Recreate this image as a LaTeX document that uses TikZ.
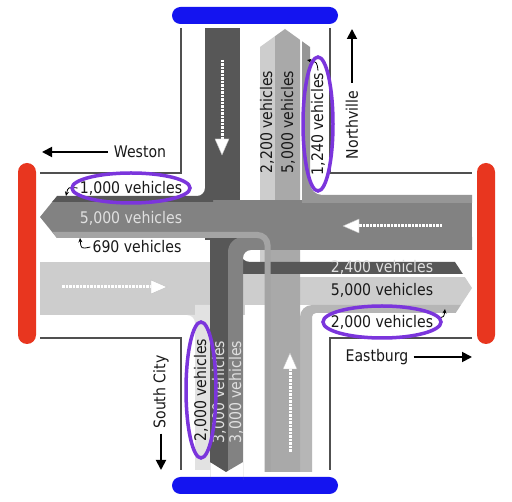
\documentclass[tikz,border=0pt]{standalone}
\usepackage{fontspec}
\setmainfont{DejaVu Sans}[FakeStretch=0.88]
\usetikzlibrary{arrows.meta}
\definecolor{dk}{HTML}{575757}
\definecolor{md}{HTML}{828282}
\definecolor{nr}{HTML}{969696}
\definecolor{lm}{HTML}{A9A9A9}
\definecolor{lt}{HTML}{CDCDCD}
\definecolor{ls}{HTML}{E2E2E2}
\definecolor{le}{HTML}{B6B6B6}
\definecolor{sixninety}{HTML}{A4A4A4}
\definecolor{pp}{HTML}{7B35DC}
\definecolor{rd}{HTML}{E8361F}
\definecolor{bl}{HTML}{1414F0}
\definecolor{edgec}{HTML}{505050}
\begin{document}
\begin{tikzpicture}[x=1pt,y=-1pt,
  font=\fontsize{16}{18}\selectfont,
  lbl/.style={inner sep=0pt, text=black!90},
  wlbl/.style={inner sep=0pt, text=white!88!black},
  oval/.style={draw=pp, line width=3.5pt},
  edgeline/.style={draw=edgec, line width=1.2pt},
  dirarrow/.style={draw=black, line width=1.8pt, -{Triangle[length=10pt,width=10pt]}},
  tinyarrow/.style={draw=black, line width=0.8pt, -{Stealth[length=4.5pt,width=4pt]}},
  flowdash/.style={draw=white, line width=3pt, dash pattern=on 2.5pt off 1pt},
  flowhead/.style={fill=white, draw=gray!50, line width=0.4pt},
  westclip/.style={insert path={(40,217) -- (57,196) -- (57,0) -- (512,0) -- (512,502) -- (57,502) -- (57,238) -- cycle}},
  eastclip/.style={insert path={(0,0) -- (455,0) -- (455,262) -- (472,288) -- (455,314) -- (455,502) -- (0,502) -- cycle}},
  northclip/.style={insert path={(0,502) -- (0,47) -- (260,47) -- (285,29) -- (310,47) -- (512,47) -- (512,502) -- cycle}},
  southclip/.style={insert path={(0,0) -- (512,0) -- (512,502) -- (243,502) -- (243,462) -- (226,472) -- (210,462) -- (210,502) -- (0,502) -- cycle}}
]
\useasboundingbox (0,0) rectangle (512,502);
\fill[white] (0,0) rectangle (512,502);

% end bars
\fill[rd, rounded corners=9pt] (18,163) rectangle (36,344);
\fill[rd, rounded corners=9pt] (477,163) rectangle (495,344);
\fill[bl, rounded corners=8.5pt] (172,7) rectangle (338,24);
\fill[bl, rounded corners=8.5pt] (172,477) rectangle (338,494);

% road edges
\draw[edgeline] (181,28) -- (181,173) -- (40,173);
\draw[edgeline] (330,28) -- (330,173) -- (472,173);
\draw[edgeline] (40,338) -- (181,338) -- (181,470);
\draw[edgeline] (472,338) -- (330,338) -- (330,470);

% eastbound (light)
\fill[lt] (40,262) rectangle (245,315);
\begin{scope}
  \clip[eastclip];
  \fill[lt] (240,277) rectangle (480,305);
\end{scope}
\begin{scope}
  \clip[northclip];
  \fill[lt] (240,262) rectangle (275,277);
  \fill[lt] (260,20) rectangle (275,277);
\end{scope}
% eastbound right turn (south)
\fill[ls] (195,305) -- (210,305) -- (210,470) -- (195,470) -- (195,323)
  .. controls (195,318.6) and (191.4,315) .. (187,315) -- (195,315) -- cycle;
% northbound right turn (east)
\begin{scope}
  \clip[eastclip];
  \fill[le] (300,472) -- (300,317) .. controls (300,310.4) and (305.4,305) .. (312,305)
    -- (480,305) -- (480,313) -- (316,313) .. controls (313.8,313) and (312,314.8) .. (312,317)
    -- (312,472) -- cycle;
\end{scope}
% northbound straight
\begin{scope}
  \clip[northclip];
  \fill[lm] (270,472) -- (270,245) -- (275,245) -- (275,20) -- (300,20) -- (300,472) -- cycle;
\end{scope}
% southbound (dark)
\fill[dk] (205,28) rectangle (240,240);
\begin{scope}
  \clip[southclip];
  \fill[dk] (210,236) rectangle (228,480);
\end{scope}
\begin{scope}
  \clip[eastclip];
  \fill[dk] (228,236) -- (240,236) -- (240,252) .. controls (240,257.5) and (244.5,262) .. (250,262)
    -- (480,262) -- (480,274) -- (228,274) -- cycle;
\end{scope}
% westbound (mid)
\begin{scope}
  \clip[westclip];
  \fill[md] (30,200) rectangle (472,238);
\end{scope}
\begin{scope}
  \clip[southclip];
  \fill[md] (472,237) -- (243,237) .. controls (234.7,237) and (228,243.7) .. (228,252)
    -- (228,480) -- (243,480) -- (243,258) .. controls (243,253.6) and (246.6,250) .. (251,250)
    -- (472,250) -- cycle;
\end{scope}
% westbound right turn (north)
\begin{scope}
  \clip[northclip];
  \fill[nr] (472,195) -- (322,195) .. controls (315.4,195) and (310,189.6) .. (310,183)
    -- (310,20) -- (302,20) -- (302,203) -- (472,203) -- cycle;
\end{scope}
% southbound right turn (west)
\begin{scope}
  \clip[westclip];
  \fill[dk] (30,196) -- (197,196) .. controls (201.4,196) and (205,192.4) .. (205,188)
    -- (205,150) -- (213,150) -- (213,202) -- (30,202) -- cycle;
\end{scope}
% northbound left turn (west)
\begin{scope}
  \clip[westclip];
  \draw[sixninety, line width=6pt] (30,235) -- (257.5,235)
    .. controls (263,235) and (267.5,239.5) .. (267.5,245) -- (267.5,472);
\end{scope}

% dashed flow arrows
\draw[flowdash] (62,287) -- (151,287);
\filldraw[flowhead] (151,280) -- (167,287) -- (151,294) -- cycle;
\draw[flowdash] (442,226) -- (359,226);
\filldraw[flowhead] (359,219) -- (343,226) -- (359,233) -- cycle;
\draw[flowdash] (222,60) -- (222,139);
\filldraw[flowhead] (215,139) -- (222,155) -- (229,139) -- cycle;
\draw[flowdash] (290,452) -- (290,369);
\filldraw[flowhead] (283,369) -- (290,353) -- (297,369) -- cycle;

% place names and direction arrows
\node[lbl] (weston) at (140,152) {Weston};
\node[lbl] (eastburg) at (377,357) {Eastburg};
\node[lbl, rotate=90] (northville) at (352,125) {Northville};
\node[lbl, rotate=90] (southcity) at (161,392) {South City};
\coordinate (westtip) at (42,152);
\coordinate (easttip) at (472,357);
\coordinate (northtip) at (352,29);
\coordinate (southtip) at (161,470);
\draw[dirarrow] ([xshift=-6pt]weston.west) -- (westtip);
\draw[dirarrow] ([xshift=5pt]eastburg.east) -- (easttip);
\draw[dirarrow] ([yshift=8pt]northville.east) -- (northtip);
\draw[dirarrow] ([yshift=-5pt]southcity.west) -- (southtip);

% vehicle counts
\node[lbl] (l1000) at (131,188) {1,000 vehicles};
\node[wlbl] (l5000w) at (131,218) {5,000 vehicles};
\node[lbl] (l690) at (137,247) {690 vehicles};
\node[wlbl] (l2400) at (382,267) {2,400 vehicles};
\node[lbl] (l5000e) at (382,290) {5,000 vehicles};
\node[lbl] (l2000e) at (382,322) {2,000 vehicles};
\node[lbl, rotate=90] (l2200) at (267,122) {2,200 vehicles};
\node[lbl, rotate=90] (l5000n) at (288,122) {5,000 vehicles};
\node[lbl, rotate=90] (l1240) at (318,124) {1,240 vehicles};
\node[lbl, rotate=90] (l2000s) at (201,390) {2,000 vehicles};
\node[wlbl, rotate=90] (l3000a) at (219,392) {3,000 vehicles};
\node[wlbl, rotate=90] (l3000b) at (236,392) {3,000 vehicles};

% pointer arrows
\coordinate (t1000) at (66,196);
\coordinate (t690) at (80,238);
\coordinate (t1240) at (307,60);
\coordinate (t2000) at (445,309);
\draw[tinyarrow] ([xshift=-2pt]l1000.west) .. controls (68,187) .. (t1000);
\draw[tinyarrow] ([xshift=-2pt]l690.west) .. controls (81,249) .. (t690);
\draw[tinyarrow] ([yshift=2pt]l1240.east) .. controls (317,62) .. (t1240);
\draw[tinyarrow] (438,318) .. controls (444,317) .. (t2000);

% highlight ovals
\draw[oval] (l1000) ellipse [x radius=59pt, y radius=15pt];
\draw[oval] (l2000e) ellipse [x radius=59pt, y radius=16pt];
\draw[oval] (l1240) ellipse [x radius=15pt, y radius=67pt];
\draw[oval] (l2000s) ellipse [x radius=15pt, y radius=68pt];
\end{tikzpicture}
\end{document}
